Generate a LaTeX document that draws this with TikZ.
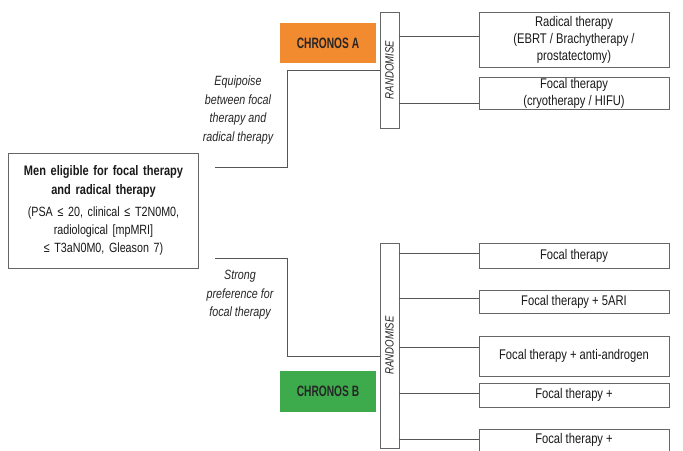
\documentclass[tikz,border=0pt]{standalone}
\usepackage{fontspec}
\setmainfont{Liberation Sans}[FakeStretch=0.8]
\newfontfamily\chronfont{Liberation Sans}[FakeStretch=0.68]
\definecolor{lc}{HTML}{555555}
\definecolor{bc}{HTML}{666666}
\definecolor{orA}{HTML}{F28A30}
\definecolor{grB}{HTML}{3DAA4B}
\begin{document}
\begin{tikzpicture}[x=1pt,y=1pt,
  tbox/.style={draw=bc,line width=0.9pt,fill=white,inner sep=1pt,align=center,font=\fontsize{14}{17}\selectfont,text=black!90},
  randbox/.style={draw=bc,line width=0.9pt,fill=white,inner sep=0pt},
  conn/.style={draw=lc,line width=0.9pt},
  chron/.style={inner sep=0pt,font=\chronfont\fontsize{15}{17}\selectfont\bfseries,text=black!85},
  lbl/.style={align=center,font=\fontsize{13.4}{18.5}\selectfont\itshape,text=black!85}]
\clip (0,0) rectangle (683,-450);
\fill[white] (0,0) rectangle (683,-450);
% main box
\node[tbox,minimum width=190,minimum height=115,text width=186] (main) at (103.5,-210.5)
  {{\fontsize{13.8}{19}\selectfont\bfseries Men eligible for focal therapy\\ and radical therapy\par}\vspace{4pt}
   {\fontsize{13.4}{18}\selectfont (PSA ≤ 20, clinical ≤ T2N0M0,\\ radiological [mpMRI]\\ ≤ T3aN0M0, Gleason 7)\par}};
% CHRONOS A
\node[randbox,minimum width=19,minimum height=116] (randA) at (389.5,-70) {};
\node[rotate=90,font=\fontsize{12}{14}\selectfont\itshape,text=black!85] (rtA) at (randA.center) {RANDOMISE};
\node[chron,fill=orA,minimum width=96,minimum height=40] (chA) at (328,-43) {CHRONOS A};
\node[tbox,minimum width=190,minimum height=55] (rA1) at (574,-39.5) {Radical therapy\\(EBRT / Brachytherapy /\\prostatectomy)};
\node[tbox,minimum width=190,minimum height=31] (rA2) at (574,-93.5) {Focal therapy\\(cryotherapy / HIFU)};
\coordinate (sA) at (215,-167);
\draw[conn] (sA) -- ++(72,0) |- (randA.west |- {(0,-70)});
\draw[conn] (randA.east |- {(0,-36)}) -- (rA1.west |- {(0,-36)});
\draw[conn] (randA.east |- {(0,-103)}) -- (rA2.west |- {(0,-103)});
\node[lbl] (eqA) at (238,-110) {Equipoise\\between focal\\therapy and\\radical therapy};
% CHRONOS B
\node[randbox,minimum width=19,minimum height=205] (randB) at (389.5,-345.5) {};
\node[rotate=90,font=\fontsize{12}{14}\selectfont\itshape,text=black!85] (rtB) at (randB.center) {RANDOMISE};
\node[chron,fill=grB,minimum width=96,minimum height=41] (chB) at (328,-391.5) {CHRONOS B};
\node[tbox,minimum width=190,minimum height=25] (b1) at (574,-255.5) {Focal therapy};
\node[tbox,minimum width=190,minimum height=23] (b2) at (574,-301.5) {Focal therapy + 5ARI};
\node[tbox,minimum width=190,minimum height=40] (b3) at (574,-356) {Focal therapy + anti-androgen};
\node[tbox,minimum width=190,minimum height=24] (b4) at (574,-395) {Focal therapy +};
\node[tbox,minimum width=190,minimum height=40,anchor=north] (b5) at (574,-429) {};
\node[font=\fontsize{14}{17}\selectfont,text=black!90] (b5t) at (574,-440) {Focal therapy +};
\coordinate (sB) at (215,-258);
\draw[conn] (sB) -- ++(72,0) |- (randB.west |- {(0,-356)});
\draw[conn] (randB.east |- {(0,-253)}) -- (b1.west |- {(0,-253)});
\draw[conn] (randB.east |- {(0,-298)}) -- (b2.west |- {(0,-298)});
\draw[conn] (randB.east |- {(0,-347)}) -- (b3.west |- {(0,-347)});
\draw[conn] (randB.east |- {(0,-393)}) -- (b4.west |- {(0,-393)});
\draw[conn] (randB.east |- {(0,-439)}) -- (b5.west |- {(0,-439)});
\node[lbl] (sp) at (240,-295) {Strong\\preference for\\focal therapy};
\end{tikzpicture}
\end{document}
